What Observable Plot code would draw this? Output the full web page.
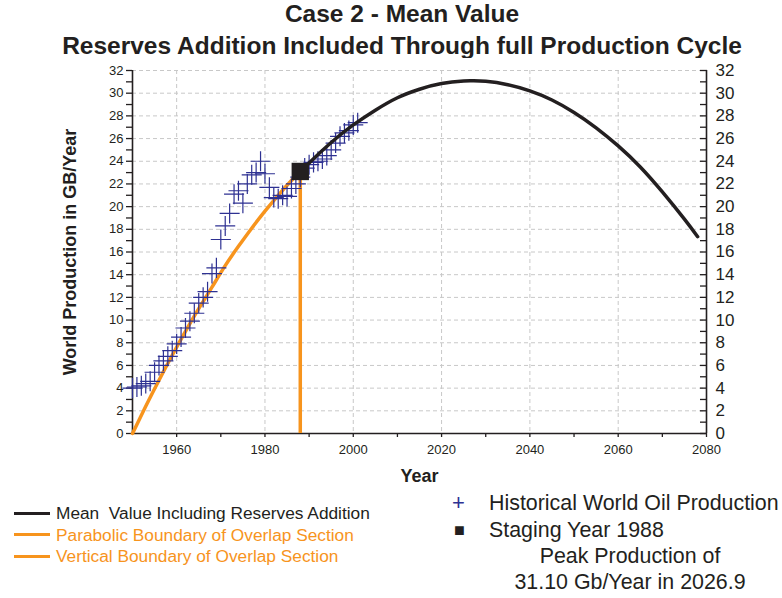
<!DOCTYPE html>
<html>
<head>
<meta charset="utf-8">
<script src="https://cdn.jsdelivr.net/npm/d3@7"></script>
<script src="https://cdn.jsdelivr.net/npm/@observablehq/plot@0.6"></script>
<style>
  html, body { margin: 0; padding: 0; background: #fff; }
  body { font-family: "Liberation Sans", Arial, sans-serif; color: #231f20; }
  #wrap { position: relative; width: 782px; height: 598px; overflow: hidden; }
  .title { position: absolute; left: 0; width: 804px; text-align: center; font-weight: bold; font-size: 24.5px; white-space: nowrap; }
  #chart { position: absolute; left: 0; top: 58px; }
  .lg { position: absolute; white-space: pre; }
  .sw { position: absolute; height: 3px; width: 36px; }
</style>
</head>
<body>
<div id="wrap">
  <div class="title" style="top:0px;">Case 2 - Mean Value</div>
  <div class="title" style="top:32px;">Reserves Addition Included Through full Production Cycle</div>
  <div id="chart"></div>
  <div id="legend"></div>
</div>
<script>
// ---- data ----
const histYear = [1950,1951,1952,1953,1954,1955,1956,1957,1958,1959,1960,1961,1962,1963,1964,1965,1966,1967,1968,1969,1970,1971,1972,1973,1974,1975,1976,1977,1978,1979,1980,1981,1982,1983,1984,1985,1986,1987,1988,1989,1990,1991,1992,1993,1994,1995,1996,1997,1998,1999,2000,2001];
const histProd = [4.0,4.1,4.2,4.4,4.6,5.4,6.0,6.4,6.8,7.3,7.9,8.5,9.3,9.9,10.6,11.5,12.0,12.5,14.1,14.6,17.1,18.3,19.4,21.1,21.4,20.3,22.0,22.8,23.0,24.0,22.9,21.7,20.8,20.7,21.0,20.9,21.6,22.0,22.6,23.4,23.7,23.9,24.0,24.2,24.5,25.0,25.6,26.2,26.5,26.7,27.2,27.4];

const meanYear = [1988,1990,1995,2000,2005,2010,2015,2020,2025,2027,2030,2035,2040,2045,2050,2055,2060,2065,2070,2075,2078];
const meanProd = [23.05,23.85,25.65,27.2,28.5,29.6,30.35,30.85,31.08,31.1,31.05,30.75,30.2,29.4,28.3,26.95,25.35,23.5,21.3,18.9,17.35];

const paraYear = [1950,1953,1956,1959,1962,1965,1968,1971,1974,1977,1980,1983,1986,1988];
const paraProd = [0,2.4,4.7,6.9,9.0,11.0,12.9,14.8,16.5,18.1,19.6,21.0,22.3,23.1];

const stagingYear = [1988];
const stagingProd = [23.1];

const xDomain = [1950, 2080];
const yDomain = [0, 32];
const xMajorTicks = [1960,1980,2000,2020,2040,2060,2080];
const xMinorTicks = [1970,1990,2010,2030,2050,2070];
const xGridTicks = [1960,1980,2000,2020,2040,2060];
const yMajorTicks = [0,2,4,6,8,10,12,14,16,18,20,22,24,26,28,30,32];
const yMinorTicks = [1,3,5,7,9,11,13,15,17,19,21,23,25,27,29,31];
const yGridTicks = [2,4,6,8,10,12,14,16,18,20,22,24,26,28,30,32];

const legendLeft = ["Mean  Value Including Reserves Addition","Parabolic Boundary of Overlap Section","Vertical Boundary of Overlap Section"];
const legendRight = ["Historical World Oil Production","Staging Year 1988"];
const peakNote = ["Peak Production of","31.10 Gb/Year in 2026.9"];

// ---- tables ----
const hist = histYear.map((x,i)=>({x, y: histProd[i]}));
const mean = meanYear.map((x,i)=>({x, y: meanProd[i]}));
const para = paraYear.map((x,i)=>({x, y: paraProd[i]}));
const staging = stagingYear.map((x,i)=>({x, y: stagingProd[i]}));

const BLACK = "#231f20", ORANGE = "#f7941d", BLUE = "#2e3192", GRID = "#c8c8c8";
const fmt = d => String(d);

const chart = Plot.plot({
  width: 782,
  height: 437,
  marginLeft: 132,
  marginRight: 76,
  marginTop: 12,
  marginBottom: 62,
  style: {fontFamily: "Liberation Sans, Arial, sans-serif", color: BLACK, background: "#fff"},
  x: {domain: xDomain},
  y: {domain: yDomain},
  marks: [
    Plot.gridY(yGridTicks, {stroke: GRID, strokeOpacity: 1, strokeDasharray: "4,3"}),
    Plot.gridX(xGridTicks, {stroke: GRID, strokeOpacity: 1, strokeDasharray: "4,3"}),
    // axes
    Plot.axisY({anchor: "left", ticks: yMajorTicks, tickFormat: fmt, tickSize: 6, tickPadding: 3, fontSize: 13, stroke: BLACK, strokeWidth: 1.3, label: null}),
    Plot.axisY({anchor: "left", ticks: yMinorTicks, tickSize: 6, text: null, stroke: BLACK, strokeWidth: 1.3, label: null}),
    Plot.axisY({anchor: "right", ticks: yMajorTicks, tickSize: 7, dx: -7, text: null, stroke: BLACK, strokeWidth: 1.3, label: null}),
    Plot.axisY({anchor: "right", ticks: yMinorTicks, tickSize: 7, dx: -7, text: null, stroke: BLACK, strokeWidth: 1.3, label: null}),
    Plot.axisY({anchor: "right", ticks: yMajorTicks, tickFormat: fmt, tickSize: 0, tickPadding: 9, fontSize: 17, label: null}),
    Plot.axisX({ticks: xMajorTicks, tickFormat: fmt, tickSize: 4, tickPadding: 7, fontSize: 13, stroke: BLACK, strokeWidth: 1.3, label: null}),
    Plot.axisX({ticks: xMinorTicks, tickSize: 4, text: null, stroke: BLACK, strokeWidth: 1.3, label: null}),
    Plot.ruleX([xDomain[0], xDomain[1]], {stroke: BLACK, strokeWidth: 1.6}),
    Plot.ruleY([yDomain[0]], {stroke: BLACK, strokeWidth: 1.6}),
    // data
    Plot.line(para, {x: "x", y: "y", stroke: ORANGE, strokeWidth: 3.5, curve: "natural"}),
    Plot.ruleX(staging, {x: "x", y1: 0, y2: "y", stroke: ORANGE, strokeWidth: 3.5}),
    Plot.dot(hist, {x: "x", y: "y", symbol: "plus", r: 6.5, stroke: BLUE, strokeWidth: 1.2}),
    Plot.line(mean, {x: "x", y: "y", stroke: BLACK, strokeWidth: 3.5, curve: "natural"}),
    Plot.dot(staging, {x: "x", y: "y", symbol: "square", r: 9.8, fill: BLACK, stroke: "none"}),
    // titles
    Plot.text(["Year"], {frameAnchor: "bottom", dy: 48, fontSize: 18, fontWeight: "bold", fill: BLACK}),
    Plot.text(["World Production in GB/Year"], {frameAnchor: "left", textAnchor: "middle", rotate: -90, dx: -62, fontSize: 18, fontWeight: "bold", fill: BLACK})
  ]
});
document.getElementById("chart").appendChild(chart);

// ---- legend ----
const lg = document.getElementById("legend");
const leftColors = [BLACK, ORANGE, ORANGE];
legendLeft.forEach((t,i)=>{
  const cy = 513 + i*21.5;
  const sw = document.createElement("div");
  sw.className = "sw"; sw.style.left = "14px"; sw.style.top = (cy-1.5)+"px"; sw.style.background = leftColors[i];
  lg.appendChild(sw);
  const d = document.createElement("div");
  d.className = "lg"; d.textContent = t; d.style.left = "56px"; d.style.top = (cy-11)+"px";
  d.style.fontSize = "17.3px"; d.style.lineHeight = "22px"; d.style.color = i === 0 ? BLACK : ORANGE;
  lg.appendChild(d);
});
legendRight.forEach((t,i)=>{
  const cy = 503 + i*27;
  const sym = document.createElement("div");
  sym.className = "lg"; sym.style.left = (i===0?452:454)+"px"; sym.style.top = (cy-12)+"px";
  sym.style.fontSize = i===0 ? "22px" : "18px"; sym.style.lineHeight = "24px";
  sym.style.color = i===0 ? BLUE : BLACK; sym.textContent = i===0 ? "+" : "■";
  lg.appendChild(sym);
  const d = document.createElement("div");
  d.className = "lg"; d.textContent = t; d.style.left = "489px"; d.style.top = (cy-13)+"px";
  d.style.fontSize = "21.4px"; d.style.lineHeight = "26px";
  lg.appendChild(d);
});
peakNote.forEach((t,i)=>{
  const cy = 556 + i*26;
  const d = document.createElement("div");
  d.className = "lg"; d.textContent = t; d.style.left = "480px"; d.style.width = "300px"; d.style.textAlign = "center";
  d.style.top = (cy-13)+"px"; d.style.fontSize = "21.4px"; d.style.lineHeight = "26px";
  lg.appendChild(d);
});
</script>
</body>
</html>
